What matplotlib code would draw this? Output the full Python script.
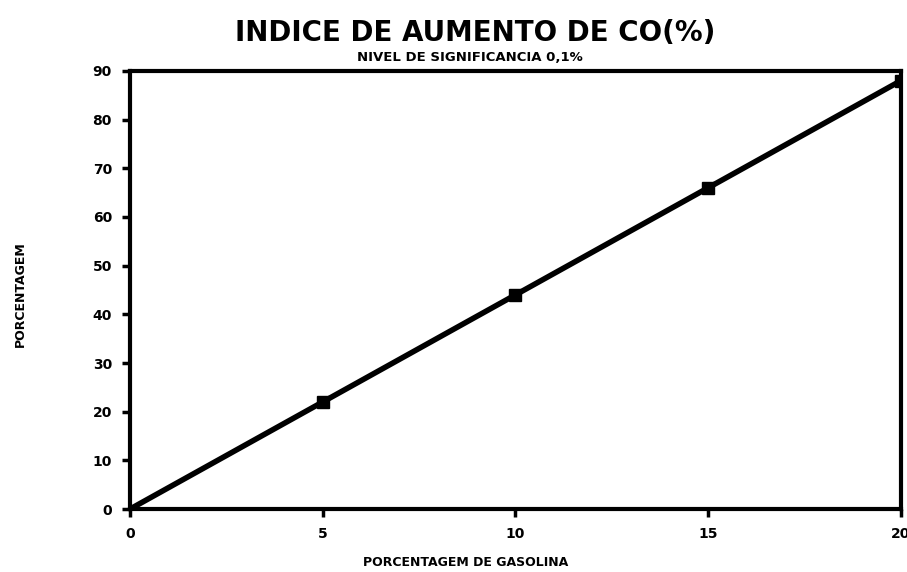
import matplotlib.pyplot as plt

# Data
gasolina = [0, 5, 10, 15, 20]
aumento_co = [0, 22, 44, 66, 88]
y_ticks = [0, 10, 20, 30, 40, 50, 60, 70, 80, 90]
x_ticks = [0, 5, 10, 15, 20]

fig = plt.figure(figsize=(9.07, 5.72), dpi=100)
ax = fig.add_axes([0.1433, 0.110, 0.850, 0.766])

ax.plot(gasolina, aumento_co, color='black', linewidth=4, marker='s',
        markersize=9, markevery=[1, 2, 3, 4], solid_capstyle='round')

ax.set_xlim(0, 20)
ax.set_ylim(0, 90)
ax.set_xticks(x_ticks)
ax.set_yticks(y_ticks)
ax.tick_params(axis='both', direction='out', width=2.5, length=6,
               labelsize=10, pad=7)
for lab in ax.get_xticklabels() + ax.get_yticklabels():
    lab.set_fontweight('bold')
for sp in ax.spines.values():
    sp.set_linewidth(3)

# Titles and axis labels
fig.text(0.524, 0.942, "INDICE DE AUMENTO DE CO(%)", ha='center', va='center',
         fontsize=20, fontweight='bold')
fig.text(0.518, 0.900, "NIVEL DE SIGNIFICANCIA 0,1%", ha='center', va='center',
         fontsize=9.5, fontweight='bold')
fig.text(0.513, 0.016, "PORCENTAGEM DE GASOLINA", ha='center', va='center',
         fontsize=9, fontweight='bold')
fig.text(0.022, 0.485, "PORCENTAGEM", ha='center', va='center', rotation=90,
         fontsize=9, fontweight='bold')

fig.savefig("out.png", dpi=100)
